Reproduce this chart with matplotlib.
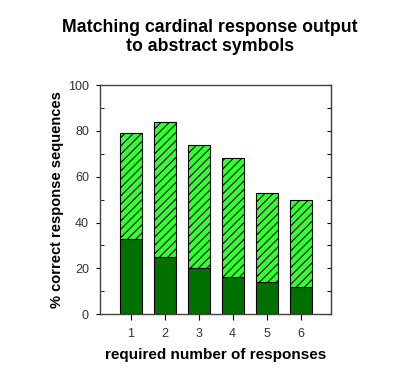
import matplotlib
matplotlib.use("Agg")
import matplotlib.pyplot as plt
from matplotlib.ticker import MultipleLocator

plt.rcParams["font.family"] = ["Liberation Sans", "DejaVu Sans"]
plt.rcParams["hatch.color"] = "#1a4d1a"
plt.rcParams["hatch.linewidth"] = 0.8

responses = [1, 2, 3, 4, 5, 6]
total_correct = [79, 84, 74, 68, 53, 50]
exact_correct = [33, 25, 20, 16, 14, 12]
rest = [t - e for t, e in zip(total_correct, exact_correct)]

fig = plt.figure(figsize=(4.0, 3.7), dpi=100)
ax = fig.add_axes([0.25, 0.151, 0.578, 0.619])

ax.bar(responses, exact_correct, width=0.65, color="#007000",
       edgecolor="black", linewidth=0.8)
ax.bar(responses, rest, width=0.65, bottom=exact_correct, color="#33ff33",
       edgecolor="black", linewidth=0.8, hatch="////")

ax.set_xlim(0.1, 6.9)
ax.set_ylim(0, 100)
ax.set_xticks(responses)
ax.yaxis.set_major_locator(MultipleLocator(20))
ax.yaxis.set_minor_locator(MultipleLocator(10))

ax.tick_params(axis="x", direction="out", length=4, labelsize=9,
               labelcolor="#333333", pad=6)
ax.tick_params(axis="y", which="major", direction="out", right=False,
               labelsize=9, labelcolor="#333333", length=3, pad=5)
ax.tick_params(axis="y", which="minor", direction="in", right=False,
               length=3)

# right axis: inward ticks every 10, no labels
sec = ax.secondary_yaxis("right")
sec.yaxis.set_major_locator(MultipleLocator(10))
sec.tick_params(direction="in", length=3, labelright=False)
sec.spines["right"].set_color("#444444")

for s in ax.spines.values():
    s.set_color("#444444")
    s.set_linewidth(1.0)

ax.set_xlabel("required number of responses", fontsize=11,
              fontweight="bold", labelpad=6)
ax.set_ylabel("% correct response sequences", fontsize=10.5,
              fontweight="bold", labelpad=3)

fig.text(0.525, 0.9, "Matching cardinal response output\nto abstract symbols",
         ha="center", va="center", fontsize=12.8, fontweight="bold",
         linespacing=1.15)

fig.savefig("out.png", dpi=100)
